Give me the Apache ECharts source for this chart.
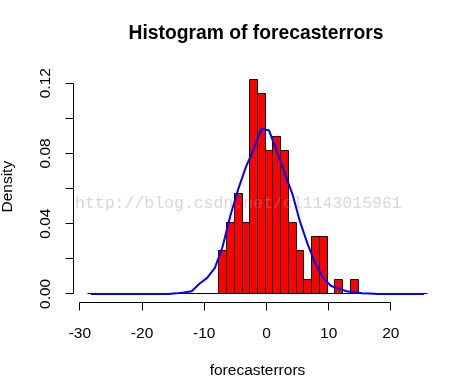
<!DOCTYPE html>
<html>
<head>
<meta charset="utf-8">
<script src="https://cdn.jsdelivr.net/npm/echarts@6/dist/echarts.min.js"></script>
<style>html,body{margin:0;padding:0;background:#fff;}#c{width:461px;height:385px;}</style>
</head>
<body>
<div id="c"></div>
<script>
// histogram bins (R: seq(mymin, mymax, binsize))
var binStart = -28.83;
var binSize = 1.245;
// density of each bin (44 bins)
var histDensity = [
  0,0,0,0,0,0,0,0,0,0,0,0,0,0,0,0,0,
  0.0248,0.0406,0.0571,0.0406,0.1223,0.1143,0.0819,0.0897,0.0819,0.0406,0.0246,0.008,0.0326,0.0326,
  0,0.008,0,0.008,
  0,0,0,0,0,0,0,0,0
];
// normal-curve density at bin mids (blue line)
var normDensity = [
  0,0,0,0,0,0,0,0,0,0,0,
  0.0003,0.0008,0.0015,0.0058,0.0091,0.0148,0.027,0.0446,0.0595,0.0722,0.0825,0.094,
  0.093,0.081,0.069,0.057,0.041,0.028,0.017,0.009,0.0045,0.003,0.0015,0.0009,0.0004,0.0002,
  0,0,0,0,0,0,0
];
var xTicks = [-30,-20,-10,0,10,20];
var yTicks = [0,0.02,0.04,0.06,0.08,0.10,0.12];
var yLabels = [0,0.04,0.08,0.12];

var xMin = -31.02, xMax = 28.14, yMin = -0.0049, yMax = 0.127;

var bins = histDensity.map(function(d,i){
  var lo = binStart + i*binSize;
  return [lo, lo+binSize, d];
});
var linePts = normDensity.map(function(d,i){
  return [binStart + (i+0.5)*binSize, d];
});

function crisp(v){ return Math.round(v - 0.5) + 0.5; }
var TICK = 8;

var font = '"Liberation Sans", Arial, sans-serif';
var chart = echarts.init(document.getElementById('c'), null, {renderer:'canvas'});
chart.setOption({
  backgroundColor:'#fff',
  animation:false,
  title:{
    text:'Histogram of forecasterrors',
    left:251, top:19, textAlign:'center',
    textStyle:{fontFamily:font, fontWeight:'bold', fontSize:19.3, color:'#000'}
  },
  grid:{left:73.5, right:19.5, top:70.9, bottom:82.5, containLabel:false, outerBoundsMode:'none'},
  xAxis:{
    type:'value', min:xMin, max:xMax,
    axisLine:{show:false},
    splitLine:{show:false},
    axisTick:{show:false},
    axisLabel:{show:true, customValues:xTicks, margin:23.5, color:'#000', fontFamily:font, fontSize:15.5},
    name:'forecasterrors', nameLocation:'middle', nameGap:60,
    nameTextStyle:{color:'#000', fontFamily:font, fontSize:15.5}
  },
  yAxis:{
    type:'value', min:yMin, max:yMax,
    axisLine:{show:false},
    splitLine:{show:false},
    axisTick:{show:false},
    axisLabel:{show:true, customValues:yLabels, rotate:90, margin:20, color:'#000', fontFamily:font, fontSize:15.5,
      formatter:function(v){return v.toFixed(2);}},
    name:'Density', nameLocation:'middle', nameGap:58, nameRotate:90,
    nameTextStyle:{color:'#000', fontFamily:font, fontSize:15.5}
  },
  series:[
    {
      type:'custom', data:bins, clip:false, z:2,
      renderItem:function(params, api){
        var p0 = api.coord([api.value(0), api.value(2)]);
        var p1 = api.coord([api.value(1), 0]);
        var x0 = crisp(p0[0]), x1 = crisp(p1[0]), y0 = crisp(p0[1]), y1 = crisp(p1[1]);
        if (api.value(2) === 0) {
          return {type:'line', shape:{x1:x0, y1:y1, x2:x1, y2:y1},
            style:{stroke:'#000', lineWidth:1}};
        }
        return {type:'rect', shape:{x:x0, y:y0, width:x1-x0, height:y1-y0},
          style:{fill:'#ff0000', stroke:'#000', lineWidth:1}};
      }
    },
    {
      type:'line', data:linePts, showSymbol:false, symbol:'none', z:3,
      lineStyle:{color:'#0000ff', width:2}
    },
    {
      // x axis: line from first to last tick, ticks pointing down
      type:'custom', data:xTicks.map(function(v){return [v];}), clip:false, z:4,
      renderItem:function(params, api){
        var v = api.value(0);
        var p = api.coord([v, yMin]);
        var x = crisp(p[0]), y = crisp(p[1]);
        var children = [{type:'line', shape:{x1:x, y1:y, x2:x, y2:y+TICK}, style:{stroke:'#000', lineWidth:1}}];
        if (params.dataIndex === 0) {
          var pe = api.coord([xTicks[xTicks.length-1], yMin]);
          children.push({type:'line', shape:{x1:x, y1:y, x2:crisp(pe[0]), y2:y}, style:{stroke:'#000', lineWidth:1}});
        }
        return {type:'group', children:children};
      }
    },
    {
      // y axis: line from first to last tick, ticks pointing left
      type:'custom', data:yTicks.map(function(v){return [0, v];}), clip:false, z:4,
      renderItem:function(params, api){
        var v = api.value(1);
        var p = api.coord([xMin, v]);
        var x = crisp(p[0]), y = crisp(p[1]);
        var children = [{type:'line', shape:{x1:x, y1:y, x2:x-TICK, y2:y}, style:{stroke:'#000', lineWidth:1}}];
        if (params.dataIndex === 0) {
          var pe = api.coord([xMin, yTicks[yTicks.length-1]]);
          children.push({type:'line', shape:{x1:x, y1:y, x2:x, y2:crisp(pe[1])}, style:{stroke:'#000', lineWidth:1}});
        }
        return {type:'group', children:children};
      }
    }
  ],
  graphic:[{
    type:'text', left:75, top:195, z:100, silent:true,
    style:{text:'http://blog.csdn.net/cl1143015961', fill:'rgba(160,160,160,0.42)',
      font:'16.5px "Liberation Mono", "DejaVu Sans Mono", monospace'}
  }]
});
</script>
</body>
</html>
